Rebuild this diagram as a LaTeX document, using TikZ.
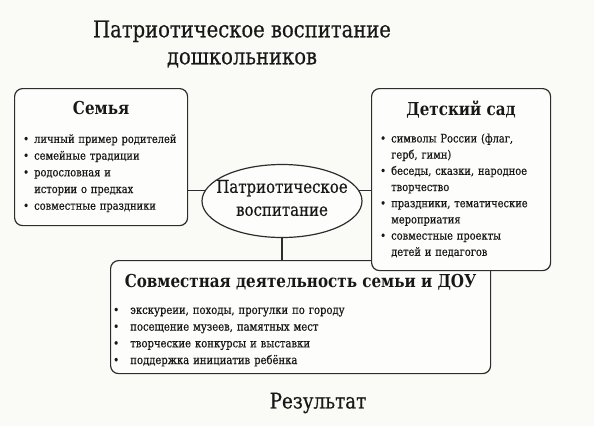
\documentclass[tikz,border=0pt]{standalone}
\usepackage{fontspec}
\setmainfont{DejaVu Serif}[FakeStretch=0.85,UprightFeatures={FakeBold=0.5}]
\usepackage{tikz}
\usetikzlibrary{positioning,shapes.geometric,calc}
\usepackage{xcolor}
\definecolor{paper}  {RGB}{250,250,246}
\definecolor{boxfill}{RGB}{253,253,251}
\definecolor{ink}    {RGB}{24,24,24}
\definecolor{edge}   {RGB}{45,45,45}
\newcommand{\itm}[2][0.95em]{\par\noindent\hangindent=#1\hangafter=1%
  \makebox[#1][l]{\textbullet}#2}

\begin{document}
\begin{tikzpicture}[
    x=1pt,y=-1pt,
    box/.style={draw=edge,line width=1.2pt,rounded corners=8pt,fill=boxfill,
                anchor=north west,inner sep=0pt},
    oval/.style={ellipse,draw=edge,line width=1.2pt,fill=boxfill,inner sep=0pt,
                 minimum width=160pt,minimum height=73pt},
    head/.style={font=\fontsize{17.8}{20}\selectfont\bfseries,text=ink,inner sep=0pt},
    items/.style={font=\fontsize{11.6}{16.7}\selectfont,text=ink,align=left,
                  anchor=north west,inner sep=0pt},
    link/.style={draw=edge,line width=1.2pt}
  ]
    \fill[paper] (0,0) rectangle (594,426);
    \useasboundingbox (0,0) rectangle (594,426);

    \node[font=\fontsize{23}{27}\selectfont,text=ink,align=center] (title) at (242,44)
      {Патриотическое воспитание\\дошкольников};

    \node[box,minimum width=380pt,minimum height=113pt] (sov) at (110,260) {};
    \node[box,minimum width=173pt,minimum height=137pt] (sem) at (14,88) {};
    \node[box,minimum width=179pt,minimum height=182pt] (det) at (371,88) {};
    \node[oval] (ell) at (282,201) {};
    \node[font=\fontsize{17.6}{23}\selectfont,text=ink,align=center] (ellt)
      at ($(ell)+(0,-3)$) {Патриотическое\\воспитание};

    \node[head] (semh) at ($(sem.north)+(0,20)$) {Семья};
    \node[head] (deth) at ($(det.north)+(0,22)$) {Детский сад};
    \node[head] (sovh) at ($(sov.north)+(0,22)$) {Совместная деятельность семьи и ДОУ};

    \node[items,text width=168pt] (seml) at ($(sem.north west)+(9,38)$)
      {\itm{личный пример родителей}\itm{семейные традиции}%
       \itm{родословная и\newline истории о предках}\itm{совместные праздники}\par};
    \node[items,text width=175pt,font=\fontsize{11.6}{16.2}\selectfont] (detl)
      at ($(det.north west)+(9,38)$)
      {\itm{символы России (флаг,\newline герб, гимн)}%
       \itm{беседы, сказки, народное\newline творчество}%
       \itm{праздники, тематические\newline мероприатия}%
       \itm{совместные проекты\newline детей и педагогов}\par};
    \node[items,text width=360pt,font=\fontsize{11.8}{16.7}\selectfont] (sovl)
      at ($(sov.north west)+(3,37)$)
      {\itm[1.45em]{экскуреии, походы, прогулки по городу}%
       \itm[1.45em]{посещение музеев, памятных мест}%
       \itm[1.45em]{творческие конкурсы и выставки}%
       \itm[1.45em]{поддержка инициатив ребёнка}\par};

    \node[font=\fontsize{21.5}{24}\selectfont,text=ink] (res) at (318,403) {Результат};

    \draw[link] (ell.172) -- (ell.172 -| sem.east);
    \draw[link] (ell.8)   -- (ell.8 -| det.west);
    \draw[link] (ell.south) -- (ell.south |- sov.north);
  \end{tikzpicture}
\end{document}
